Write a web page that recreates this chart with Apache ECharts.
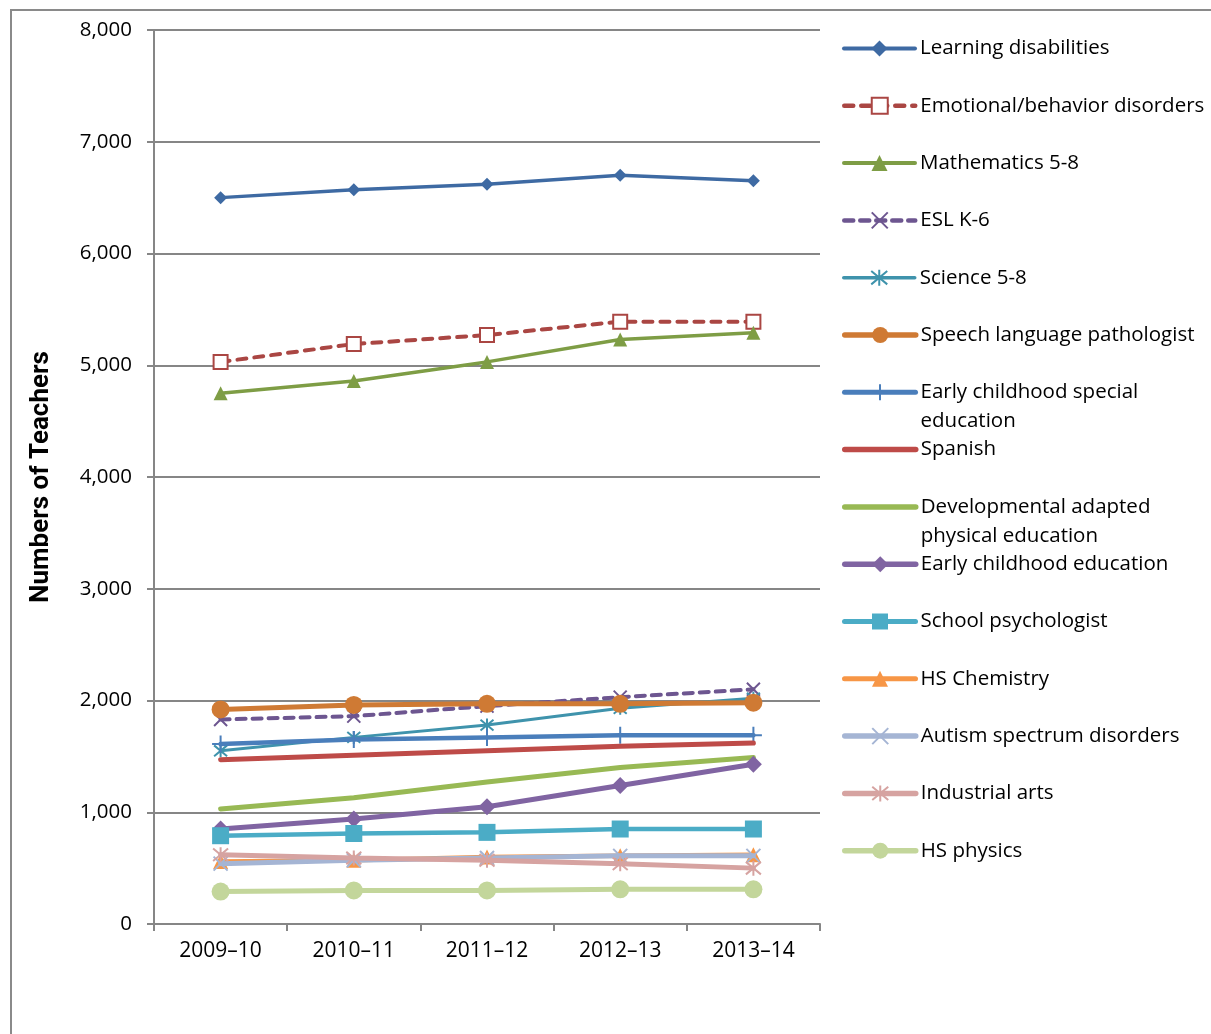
<!DOCTYPE html>
<html>
<head>
<meta charset="utf-8">
<script src="https://cdn.jsdelivr.net/npm/echarts@6/dist/echarts.min.js"></script>
<style>
html,body{margin:0;padding:0;background:#fff;}
#chart{width:1211px;height:1034px;}
</style>
</head>
<body>
<div id="chart"></div>
<script>
// ---- data ----
const categories = ['2009\u201310', '2010\u201311', '2011\u201312', '2012\u201313', '2013\u201314'];
const seriesNames = [
  'Learning disabilities',
  'Emotional/behavior disorders',
  'Mathematics 5-8',
  'ESL K-6',
  'Science 5-8',
  'Speech language pathologist',
  'Early childhood special education',
  'Spanish',
  'Developmental adapted physical education',
  'Early childhood education',
  'School psychologist',
  'HS Chemistry',
  'Autism spectrum disorders',
  'Industrial arts',
  'HS physics'
];
const learningDisabilities = [6500, 6570, 6620, 6700, 6650];
const emotionalBehavior = [5030, 5190, 5270, 5390, 5390];
const mathematics58 = [4750, 4860, 5030, 5230, 5290];
const eslK6 = [1830, 1860, 1950, 2030, 2100];
const science58 = [1550, 1670, 1780, 1930, 2020];
const speechLanguage = [1920, 1960, 1970, 1970, 1980];
const earlyChildhoodSpecial = [1610, 1650, 1670, 1690, 1690];
const spanish = [1470, 1510, 1550, 1590, 1620];
const developmentalAdapted = [1030, 1130, 1270, 1400, 1490];
const earlyChildhoodEd = [850, 940, 1050, 1240, 1430];
const schoolPsychologist = [790, 810, 820, 850, 850];
const hsChemistry = [560, 570, 600, 610, 620];
const autismSpectrum = [540, 570, 590, 610, 610];
const industrialArts = [620, 590, 570, 540, 500];
const hsPhysics = [290, 300, 300, 310, 310];
const yTicks = [0, 1000, 2000, 3000, 4000, 5000, 6000, 7000, 8000];

const seriesValues = [learningDisabilities, emotionalBehavior, mathematics58, eslK6, science58,
  speechLanguage, earlyChildhoodSpecial, spanish, developmentalAdapted, earlyChildhoodEd,
  schoolPsychologist, hsChemistry, autismSpectrum, industrialArts, hsPhysics];

// ---- styles ----
const X_PATH = 'path://M0,0L10,10M10,0L0,10';
const STAR_PATH = 'path://M0,1L10,11M10,1L0,11M5,0L5,12';
const PLUS_PATH = 'path://M5,0L5,10M0,5L10,5';
const styles = [
  {c:'#3E6AA3', w:3.5, sym:'diamond', size:13},
  {c:'#AA4643', w:4,   sym:'rect', size:14, hollow:true, dash:[9,8]},
  {c:'#7E9D45', w:3.5, sym:'triangle', size:14},
  {c:'#6D5690', w:4,   sym:X_PATH, size:13, stroke:true, dash:[9,7]},
  {c:'#3F93AC', w:3,   sym:STAR_PATH, size:13, stroke:true},
  {c:'#CF7A34', w:5,   sym:'circle', size:18},
  {c:'#4A7EBB', w:4.5, sym:PLUS_PATH, size:17, stroke:true},
  {c:'#BE4B48', w:5,   sym:'none', size:0},
  {c:'#98B954', w:5,   sym:'none', size:0},
  {c:'#8064A2', w:5,   sym:'diamond', size:17},
  {c:'#4BACC6', w:4.5, sym:'rect', size:17},
  {c:'#F79646', w:4.5, sym:'triangle', size:15},
  {c:'#A5B5D4', w:5,   sym:X_PATH, size:14, stroke:true},
  {c:'#D6A3A1', w:5,   sym:STAR_PATH, size:15, stroke:true},
  {c:'#C3D69B', w:5,   sym:'circle', size:18}
];
const legendLabels = {
  'Early childhood special education': '\nEarly childhood special\neducation',
  'Developmental adapted physical education': '\nDevelopmental adapted\nphysical education'
};

function itemStyleFor(s) {
  if (s.hollow) return {color:'#ffffff', borderColor:s.c, borderWidth:2, opacity:1};
  if (s.stroke) return {color:s.c, borderColor:s.c, borderWidth:2, opacity:1};
  return {color:s.c, borderColor:s.c, borderWidth:0, opacity: s.sym === 'none' ? 0 : 1};
}

const series = seriesNames.map((name, i) => {
  const s = styles[i];
  return {
    name, type:'line', data: seriesValues[i],
    symbol: s.sym, symbolSize: s.size, showSymbol: s.sym !== 'none',
    lineStyle: {color:s.c, width:s.w, type: s.dash || 'solid', cap:'round'},
    itemStyle: itemStyleFor(s), emphasis:{disabled:true}, animation:false, z: 2 + i * 0.01
  };
});

const legends = seriesNames.map((name, i) => {
  const s = styles[i];
  const multi = !!legendLabels[name];
  const center = 48.5 + 57.3 * i;
  return {
    data:[name], orient:'vertical', left:842, top: center - (multi ? 43.5 : 14.5),
    padding:0, itemWidth:71, itemHeight:20, itemGap:0,
    selectedMode:false,
    lineStyle:{width: s.w + 0.5, color: s.c, type: s.dash || 'solid', cap:'round'},
    itemStyle: itemStyleFor(s),
    formatter: (n) => legendLabels[n] || n,
    textStyle:{fontFamily:'Open Sans', fontSize:20.5, color:'#000', lineHeight:29}
  };
});

const chart = echarts.init(document.getElementById('chart'), null, {renderer:'canvas'});
chart.setOption({
  backgroundColor:'#ffffff',
  animation:false,
  graphic:[{type:'rect', shape:{x:11, y:10, width:1400, height:1200},
    style:{fill:'none', stroke:'#8a8a8a', lineWidth:2}, silent:true, z:-1}],
  legend: legends,
  grid:{left:154, right:391, top:30, bottom:110, containLabel:false},
  xAxis:{
    type:'category', data:categories, boundaryGap:true,
    axisLine:{lineStyle:{color:'#868686', width:2}},
    axisTick:{show:true, length:7, lineStyle:{color:'#868686', width:2}},
    axisLabel:{fontFamily:'Open Sans', fontSize:21, color:'#000', margin:17}
  },
  yAxis:{
    type:'value', min:0, max:8000, interval:1000,
    name:'Numbers of Teachers', nameLocation:'middle', nameGap:100, nameRotate:90,
    nameTextStyle:{fontFamily:'Roboto', fontWeight:'bold', fontSize:26, color:'#000'},
    axisLine:{show:true, lineStyle:{color:'#868686', width:2}},
    axisTick:{show:true, length:7, lineStyle:{color:'#868686', width:2}},
    axisLabel:{fontFamily:'Open Sans', fontSize:20.5, color:'#000', margin:22,
      formatter:(v) => yTicks.includes(v) ? v.toLocaleString('en-US') : ''},
    splitLine:{show:true, lineStyle:{color:'#868686', width:2}}
  },
  series
});
</script>
</body>
</html>
